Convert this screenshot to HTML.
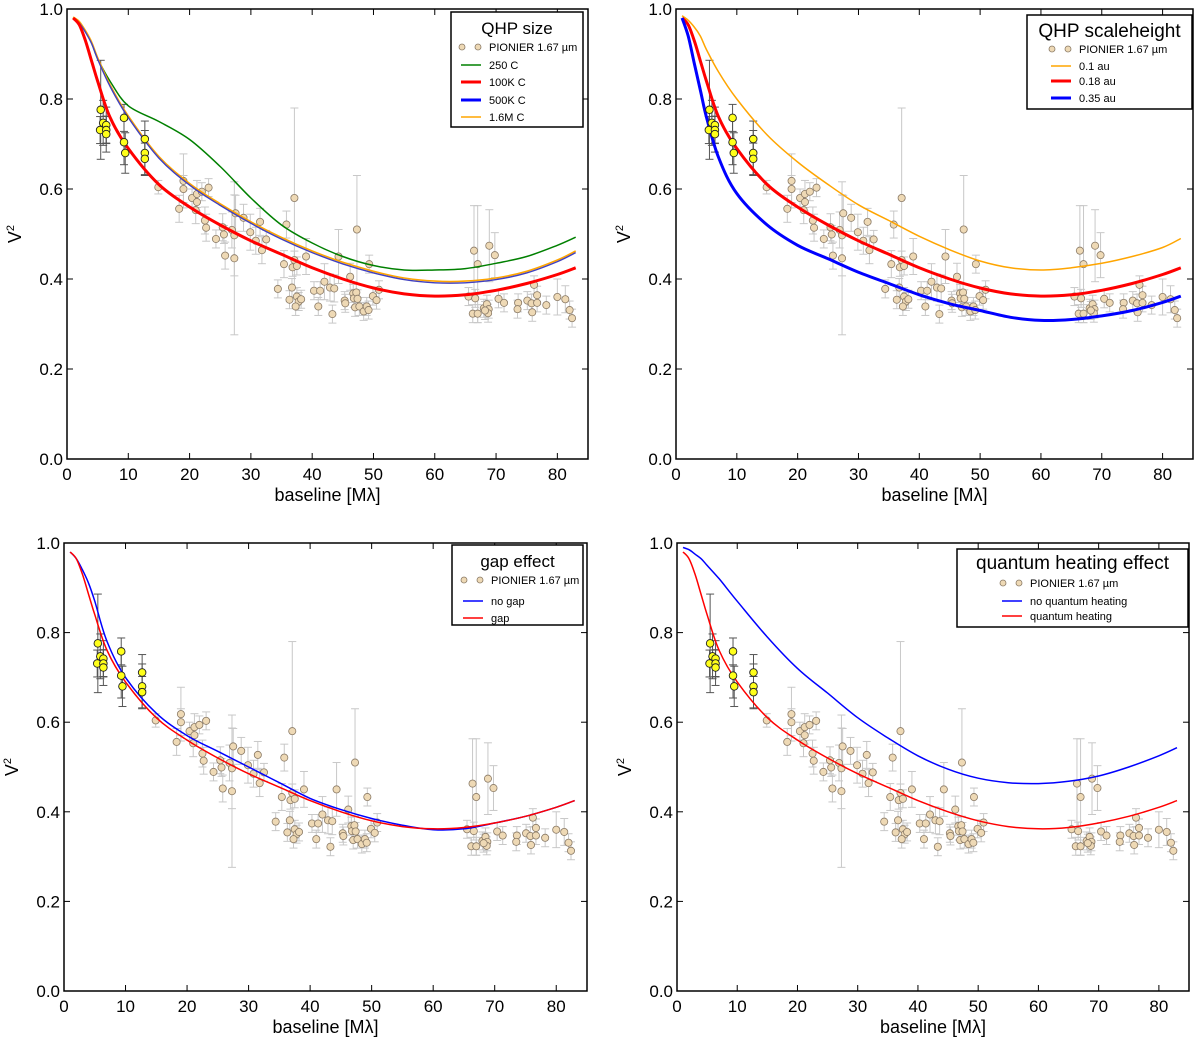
<!DOCTYPE html>
<html><head><meta charset="utf-8">
<style>
html,body{margin:0;padding:0;background:#fff;}
svg{display:block;font-family:"Liberation Sans","DejaVu Sans",sans-serif;}
</style></head>
<body>
<svg id="fig" width="1200" height="1041" viewBox="0 0 1200 1041" xmlns="http://www.w3.org/2000/svg"></svg>
<script>
// ---- data ----
const yellowX=[5.4,5.5,5.9,6.4,6.4,6.4,9.3,9.3,9.5,12.7,12.7,12.7];
const yellowY=[0.731,0.776,0.747,0.742,0.731,0.722,0.758,0.704,0.680,0.711,0.680,0.667];
const yellowE=[0.03,0.11,0.05,0.04,0.03,0.04,0.03,0.05,0.045,0.04,0.05,0.035];
const tanX=[14.9,19.0,19.0,18.3,20.4,21.2,21.2,22.0,23.1,21.0,22.5,22.7,24.3,25.4,25.6,25.8,26.9,27.3,27.3,27.5,28.8,29.9,30.8,31.5,31.8,32.5,34.4,35.8,35.4,36.3,36.7,36.8,37.1,37.1,37.5,37.5,37.8,37.3,38.2,39.0,40.3,41.3,41.0,42.0,42.9,43.6,43.3,44.3,45.3,45.4,46.2,46.7,46.8,47.2,47.4,47.3,47.0,47.7,48.4,48.9,49.2,49.3,49.9,50.5,50.9,66.4,67.0,68.9,69.8,65.5,66.6,66.2,67.0,68.0,68.5,68.8,68.7,68.2,70.4,71.3,73.6,73.5,75.1,75.8,75.9,76.2,76.7,76.7,78.2,80.0,81.3,82.0,82.4];
const tanY=[0.604,0.618,0.600,0.556,0.580,0.589,0.571,0.594,0.603,0.553,0.530,0.514,0.489,0.515,0.499,0.452,0.509,0.497,0.446,0.546,0.536,0.504,0.485,0.527,0.464,0.488,0.378,0.521,0.433,0.354,0.381,0.426,0.442,0.580,0.429,0.361,0.350,0.339,0.355,0.450,0.374,0.374,0.339,0.394,0.381,0.379,0.322,0.450,0.352,0.346,0.405,0.368,0.357,0.370,0.356,0.510,0.337,0.339,0.328,0.339,0.331,0.433,0.362,0.353,0.376,0.463,0.433,0.474,0.453,0.361,0.357,0.323,0.323,0.335,0.344,0.333,0.324,0.330,0.356,0.347,0.347,0.333,0.352,0.346,0.326,0.387,0.364,0.347,0.342,0.360,0.355,0.331,0.313];
const tanE=[0.015,0.06,0.03,0.03,0.02,0.03,0.02,0.02,0.02,0.03,0.03,0.03,0.02,0.03,0.02,0.03,0.04,0.09,0.17,0.04,0.03,0.04,0.03,0.03,0.03,0.02,0.02,0.03,0.03,0.02,0.02,0.02,0.02,0.2,0.02,0.02,0.02,0.02,0.02,0.04,0.02,0.02,0.02,0.04,0.03,0.03,0.02,0.06,0.02,0.02,0.03,0.02,0.02,0.02,0.02,0.12,0.02,0.02,0.02,0.02,0.02,0.02,0.02,0.02,0.02,0.1,0.13,0.08,0.05,0.02,0.02,0.02,0.02,0.02,0.02,0.02,0.02,0.02,0.02,0.02,0.02,0.02,0.02,0.02,0.02,0.02,0.02,0.02,0.02,0.04,0.03,0.02,0.02];
const curveX=[1,2,3,4,5,7,10,15,20,25,30,35,40,45,50,55,60,65,70,75,80,83];
const red100K=[0.98,0.965,0.93,0.885,0.84,0.76,0.69,0.61,0.56,0.52,0.485,0.455,0.425,0.40,0.38,0.367,0.362,0.365,0.375,0.39,0.41,0.425];
const blue500K=[0.98,0.97,0.95,0.925,0.89,0.83,0.76,0.67,0.61,0.565,0.525,0.49,0.46,0.435,0.415,0.40,0.393,0.393,0.40,0.415,0.44,0.46];
const green250=[0.98,0.97,0.95,0.925,0.89,0.84,0.785,0.75,0.71,0.65,0.58,0.52,0.48,0.45,0.43,0.42,0.42,0.423,0.435,0.45,0.475,0.493];
const orange01=[0.985,0.975,0.96,0.94,0.91,0.86,0.80,0.72,0.66,0.61,0.565,0.53,0.495,0.465,0.44,0.425,0.42,0.425,0.435,0.45,0.47,0.49];
const blue035=[0.98,0.94,0.88,0.82,0.76,0.67,0.59,0.52,0.475,0.445,0.415,0.39,0.365,0.345,0.33,0.315,0.308,0.31,0.318,0.33,0.348,0.362];
const blueNoGap=[0.98,0.965,0.94,0.91,0.87,0.78,0.70,0.62,0.57,0.535,0.50,0.465,0.43,0.405,0.385,0.37,0.36,0.362,0.375,0.39,0.41,0.425];
const blueNoQH=[0.99,0.985,0.975,0.965,0.95,0.92,0.87,0.79,0.72,0.665,0.61,0.565,0.525,0.495,0.475,0.465,0.463,0.468,0.48,0.50,0.525,0.543];
const xTicks=[0,10,20,30,40,50,60,70,80];
const yTicks=[0.0,0.2,0.4,0.6,0.8,1.0];

const NS="http://www.w3.org/2000/svg";
const fig=document.getElementById('fig');
function el(tag,attrs,parent){const e=document.createElementNS(NS,tag);for(const k in attrs)e.setAttribute(k,attrs[k]);(parent||fig).appendChild(e);return e;}
function smooth(pts){let d=`M${pts[0][0]},${pts[0][1]}`;for(let i=0;i<pts.length-1;i++){const p0=pts[Math.max(0,i-1)],p1=pts[i],p2=pts[i+1],p3=pts[Math.min(pts.length-1,i+2)];const c1=[p1[0]+(p2[0]-p0[0])/6,p1[1]+(p2[1]-p0[1])/6],c2=[p2[0]-(p3[0]-p1[0])/6,p2[1]-(p3[1]-p1[1])/6];d+=` C${c1[0].toFixed(1)},${c1[1].toFixed(1)} ${c2[0].toFixed(1)},${c2[1].toFixed(1)} ${p2[0].toFixed(1)},${p2[1].toFixed(1)}`;}return d;}

function panel(cfg){
  const g=el('g',{});
  
  
  const L=cfg.l,T=cfg.t,R=cfg.r,B=cfg.b;
  const sx=v=>L+(v/85)*(R-L), sy=v=>B-v*(B-T);
  for(let i=0;i<tanX.length;i++){
    const e=el('line',{x1:sx(tanX[i]),x2:sx(tanX[i]),y1:sy(tanY[i]-tanE[i]),y2:sy(tanY[i]+tanE[i]),stroke:'#c8c8c8','stroke-width':1},g);
    
    for(const s of [-1,1]){el('line',{x1:sx(tanX[i])-4,x2:sx(tanX[i])+4,y1:sy(tanY[i]+s*tanE[i]),y2:sy(tanY[i]+s*tanE[i]),stroke:'#c8c8c8','stroke-width':1},g);}
  }
  for(let i=0;i<yellowX.length;i++){
    const e=el('line',{x1:sx(yellowX[i]),x2:sx(yellowX[i]),y1:sy(yellowY[i]-yellowE[i]),y2:sy(yellowY[i]+yellowE[i]),stroke:'#555','stroke-width':1},g);
    
    for(const s of [-1,1]){el('line',{x1:sx(yellowX[i])-4,x2:sx(yellowX[i])+4,y1:sy(yellowY[i]+s*yellowE[i]),y2:sy(yellowY[i]+s*yellowE[i]),stroke:'#555','stroke-width':1},g);}
  }
  for(let i=0;i<tanX.length;i++){
    const c=el('circle',{cx:sx(tanX[i]),cy:sy(tanY[i]),r:3.6,fill:'#eed9b5',stroke:'#8a7a66','stroke-width':0.8},g);
    
  }
  cfg.curves.forEach(cv=>{
    const pts=curveX.map((x,i)=>[sx(x),sy(cv.y[i])+(cv.dy||0)]);
    const p=el('path',{d:smooth(pts),fill:'none',stroke:cv.c,'stroke-width':cv.w},g);
    
  });
  for(let i=0;i<yellowX.length;i++){
    const c=el('circle',{cx:sx(yellowX[i]),cy:sy(yellowY[i]),r:3.8,fill:'#ffff1a',stroke:'#222','stroke-width':0.9},g);
    
  }
  const f=el('rect',{x:L,y:T,width:R-L,height:B-T,fill:'none',stroke:'#000','stroke-width':1.5},g);
  
  xTicks.forEach(v=>{
    el('line',{x1:sx(v),x2:sx(v),y1:B,y2:B-6,stroke:'#000'},g);
    el('line',{x1:sx(v),x2:sx(v),y1:T,y2:T+6,stroke:'#000'},g);
    const t=el('text',{x:sx(v),y:B+21,'font-size':17,'text-anchor':'middle'},g);t.textContent=v;
    
  });
  yTicks.forEach(v=>{
    el('line',{x1:L,x2:L+6,y1:sy(v),y2:sy(v),stroke:'#000'},g);
    el('line',{x1:R,x2:R-6,y1:sy(v),y2:sy(v),stroke:'#000'},g);
    const t=el('text',{x:L-4,y:sy(v)+6,'font-size':17,'text-anchor':'end'},g);t.textContent=v.toFixed(1);
    
  });
  const xt=el('text',{x:(L+R)/2,y:B+42,'font-size':18,'text-anchor':'middle'},g);xt.textContent='baseline [Mλ]';
  
  const yt=el('text',{x:0,y:0,'font-size':18,'text-anchor':'middle',transform:`translate(${L-46},${(T+B)/2}) rotate(-90)`},g);
  yt.innerHTML='V<tspan font-size="11" dy="-7">2</tspan>';
  
  const lg=cfg.leg;
  const lgG=el('g',{},g);
  
  el('rect',{x:lg.x,y:lg.y,width:lg.w,height:lg.h,fill:'#fff',stroke:'#000','stroke-width':1.5},lgG);
  const tt=el('text',{x:lg.x+lg.w/2,y:lg.y+lg.ty,'font-size':lg.fs,'text-anchor':'middle'},lgG);tt.textContent=lg.title;
  
  lg.items.forEach((it,i)=>{
    const y=lg.ys[i];
    if(it.c==='pts'){
      el('circle',{cx:lg.mx,cy:y,r:3,fill:'#eed9b5',stroke:'#8a7a66','stroke-width':0.8},lgG);
      el('circle',{cx:lg.mx+16,cy:y,r:3,fill:'#eed9b5',stroke:'#8a7a66','stroke-width':0.8},lgG);
    } else {
      el('line',{x1:lg.mx-1,x2:lg.mx+19,y1:y,y2:y,stroke:it.c,'stroke-width':it.w},lgG);
    }
    const t=el('text',{x:lg.mx+27,y:y+4,'font-size':11},lgG);t.textContent=it.t;
    
  });
}
const PI={t:'PIONIER 1.67 µm',c:'pts'};
panel({name:'panel-qhp-size',l:67,t:9,r:588,b:459,
  curves:[{name:'curve-250C',y:green250,c:'#008000',w:1.5},{name:'curve-1.6MC',y:blue500K,c:'#ffa500',w:1.6,dy:-1},{name:'curve-500KC',y:blue500K,c:'#4040c0',w:1.4,dy:0.6},{name:'curve-100KC',y:red100K,c:'#ff0000',w:3}],
  leg:{x:451,y:12,w:132,h:115,title:'QHP size',fs:17,ty:22,mx:462,ys:[47,65,82,100,117],
    items:[PI,{t:'250 C',c:'#008000',w:1.5},{t:'100K C',c:'#ff0000',w:3},{t:'500K C',c:'#0000ff',w:3},{t:'1.6M C',c:'#ffa500',w:1.5}]}});
panel({name:'panel-qhp-scaleheight',l:676,t:9,r:1193,b:459,
  curves:[{name:'curve-0.1au',y:orange01,c:'#ffa500',w:1.5},{name:'curve-0.18au',y:red100K,c:'#ff0000',w:3},{name:'curve-0.35au',y:blue035,c:'#0000ff',w:3}],
  leg:{x:1027,y:15,w:165,h:94,title:'QHP scaleheight',fs:19,ty:22,mx:1052,ys:[49,66,81,98],
    items:[PI,{t:'0.1 au',c:'#ffa500',w:1.5},{t:'0.18 au',c:'#ff0000',w:3},{t:'0.35 au',c:'#0000ff',w:3}]}});
panel({name:'panel-gap-effect',l:64,t:543,r:587,b:991,
  curves:[{name:'curve-no-gap',y:blueNoGap,c:'#0000ff',w:1.5},{name:'curve-gap',y:red100K,c:'#ff0000',w:1.5}],
  leg:{x:452,y:545,w:131,h:80,title:'gap effect',fs:17,ty:22,mx:464,ys:[580,601,618],
    items:[PI,{t:'no gap',c:'#0000ff',w:1.5},{t:'gap',c:'#ff0000',w:1.5}]}});
panel({name:'panel-quantum-heating',l:677,t:543,r:1189,b:991,
  curves:[{name:'curve-no-quantum-heating',y:blueNoQH,c:'#0000ff',w:1.5},{name:'curve-quantum-heating',y:red100K,c:'#ff0000',w:1.5}],
  leg:{x:957,y:549,w:231,h:78,title:'quantum heating effect',fs:19,ty:20,mx:1003,ys:[583,601,616],
    items:[PI,{t:'no quantum heating',c:'#0000ff',w:1.5},{t:'quantum heating',c:'#ff0000',w:1.5}]}});
</script>
</body></html>
